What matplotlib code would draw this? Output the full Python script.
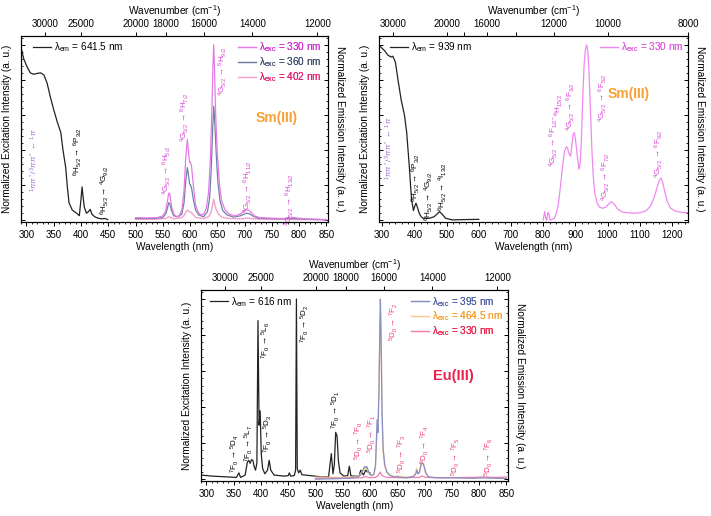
import matplotlib.pyplot as plt
from matplotlib.lines import Line2D
from matplotlib.ticker import MultipleLocator, NullLocator

plt.rcParams.update({
    "font.family": ["Liberation Sans", "DejaVu Sans"],
    "font.size": 7,
    "mathtext.fontset": "custom",
    "mathtext.rm": "Liberation Sans",
    "mathtext.it": "Liberation Sans:italic",
    "mathtext.bf": "Liberation Sans:bold",
    "axes.linewidth": 0.8,
})

# ---- Sm(III), visible: excitation (em 641.5 nm) and emission spectra ----
sm1_exc_wl = [289, 295, 301, 307, 313, 320, 326, 332, 338, 344, 350, 357, 363, 367, 372,
              375, 378, 384, 392, 397, 400, 402, 404, 406, 410, 414, 417, 420, 425, 431,
              438, 444, 449]
sm1_exc = [1.0, 0.92, 0.875, 0.84, 0.832, 0.837, 0.84, 0.828, 0.78, 0.70, 0.63, 0.555, 0.50,
           0.40, 0.30, 0.19, 0.10, 0.058, 0.04, 0.026, 0.12, 0.19, 0.13, 0.075, 0.04, 0.05,
           0.062, 0.035, 0.02, 0.012, 0.008, 0.01, 0.004]

sm1_em330_wl = [500, 520, 540, 550, 555, 558, 561, 563, 566, 570, 575, 580, 585, 589, 592,
                595, 597, 599, 601, 603, 606, 610, 615, 620, 625, 630, 634, 637, 640, 642,
                643.5, 645, 647, 650, 654, 658, 664, 672, 682, 692, 698, 703, 707, 712, 718,
                728, 745, 770, 785, 790, 795, 810, 830, 850]
sm1_em330 = [0.015, 0.013, 0.015, 0.025, 0.05, 0.10, 0.155, 0.15, 0.08, 0.035, 0.02, 0.025,
             0.06, 0.17, 0.35, 0.46, 0.40, 0.33, 0.33, 0.30, 0.20, 0.09, 0.045, 0.03, 0.035,
             0.07, 0.16, 0.33, 0.62, 0.88, 1.0, 0.85, 0.6, 0.38, 0.2, 0.11, 0.06, 0.035, 0.025,
             0.035, 0.05, 0.06, 0.058, 0.045, 0.025, 0.015, 0.012, 0.01, 0.014, 0.016, 0.013,
             0.008, 0.006, 0.004]

sm1_em360_wl = [500, 530, 550, 556, 559, 561, 563, 566, 570, 578, 585, 589, 592, 595, 597,
                599, 601, 603, 606, 610, 616, 625, 632, 636, 639, 641.5, 643.5, 645.5, 648,
                651, 655, 660, 668, 680, 692, 700, 705, 710, 716, 725, 760, 790, 820, 850]
sm1_em360 = [0.01, 0.01, 0.015, 0.04, 0.075, 0.10, 0.095, 0.055, 0.025, 0.02, 0.035, 0.10,
             0.22, 0.30, 0.26, 0.21, 0.20, 0.18, 0.12, 0.06, 0.03, 0.02, 0.05, 0.13, 0.30,
             0.52, 0.65, 0.55, 0.38, 0.22, 0.11, 0.055, 0.03, 0.018, 0.025, 0.036, 0.04,
             0.035, 0.022, 0.012, 0.008, 0.01, 0.005, 0.003]

sm1_em402_wl = [500, 540, 555, 559, 562, 565, 570, 585, 590, 593, 595.5, 598, 602, 606, 612,
                625, 634, 638, 641, 643.5, 645.5, 648, 652, 658, 670, 695, 705, 715, 740, 850]
sm1_em402 = [0.005, 0.006, 0.01, 0.016, 0.02, 0.015, 0.008, 0.015, 0.03, 0.05, 0.058, 0.05,
             0.045, 0.03, 0.015, 0.01, 0.02, 0.04, 0.08, 0.12, 0.09, 0.06, 0.035, 0.018, 0.01,
             0.008, 0.013, 0.008, 0.005, 0.003]

# ---- Sm(III), NIR: excitation (em 939 nm) and emission (exc 330 nm) ----
sm2_exc_wl = [290, 297, 308, 318, 328, 333, 341, 349, 359, 369, 376, 384, 391, 397, 401, 405,
              410, 415, 421, 428, 446, 461, 470, 478, 486, 497, 518, 560, 600]
sm2_exc = [1.0, 0.985, 0.965, 0.94, 0.93, 0.935, 0.90, 0.80, 0.685, 0.60, 0.50, 0.31, 0.12,
           0.055, 0.08, 0.097, 0.07, 0.04, 0.02, 0.011, 0.011, 0.02, 0.035, 0.049, 0.035,
           0.011, 0.002, 0.004, 0.005]

sm2_em_wl = [800, 805, 808, 811, 815, 818, 822, 826, 836, 846, 851, 856, 861, 866, 872, 876,
             880, 885, 889, 893, 897, 901, 906, 911, 915, 919, 923, 927, 931, 935, 939, 943,
             947, 951, 955, 960, 967, 975, 985, 995, 1005, 1012, 1017, 1023, 1031, 1045, 1065,
             1085, 1105, 1120, 1133, 1145, 1153, 1160, 1166, 1171, 1177, 1185, 1195, 1210,
             1230, 1250]
sm2_em = [0.004, 0.05, 0.01, 0.0, 0.045, 0.035, 0.0, 0.004, 0.013, 0.077, 0.15, 0.23, 0.32,
          0.39, 0.42, 0.41, 0.38, 0.365, 0.42, 0.49, 0.50, 0.45, 0.37, 0.29, 0.33, 0.46, 0.70,
          0.88, 0.97, 1.0, 0.96, 0.82, 0.62, 0.42, 0.27, 0.16, 0.10, 0.075, 0.068, 0.075,
          0.095, 0.105, 0.10, 0.085, 0.065, 0.047, 0.042, 0.04, 0.045, 0.055, 0.08, 0.13,
          0.18, 0.225, 0.24, 0.22, 0.17, 0.11, 0.07, 0.052, 0.045, 0.043]

# ---- Eu(III): excitation (em 616 nm) and emission spectra ----
eu_exc_wl = [290, 311, 336, 355, 359.5, 362.5, 371, 375, 377.5, 380, 382.5, 385, 387.5, 390,
             392.5, 394.5, 396.5, 398.5, 400.5, 403, 407, 412, 415, 418, 424, 443, 450, 452,
             454.5, 461, 463.5, 465, 466.5, 469, 472, 475, 490, 511, 524, 526.5, 529, 532,
             534.5, 537, 539.5, 542, 545, 552, 559, 562, 565, 575, 580, 583, 588, 592, 596, 600]
eu_exc = [0.023, 0.017, 0.013, 0.01, 0.035, 0.01, 0.023, 0.095, 0.105, 0.088, 0.108, 0.105,
          0.07, 0.05, 0.09, 0.88, 0.30, 0.38, 0.14, 0.06, 0.03, 0.05, 0.105, 0.05, 0.023,
          0.017, 0.02, 0.035, 0.017, 0.02, 0.05, 1.0, 0.06, 0.035, 0.05, 0.025, 0.02, 0.013,
          0.013, 0.08, 0.142, 0.03, 0.08, 0.26, 0.24, 0.10, 0.035, 0.017, 0.02, 0.072, 0.017,
          0.017, 0.02, 0.05, 0.023, 0.05, 0.04, 0.035]

eu_em395_wl = [500, 540, 565, 578, 583, 587, 590, 592, 594, 596, 599, 603, 607, 610, 613,
               614.5, 616.5, 618, 619, 620.5, 622, 624, 627, 631, 637, 645, 650, 655, 668, 680,
               684, 686, 688, 690, 692, 694, 696, 698, 700, 703, 708, 720, 750, 790, 810, 830, 850]
eu_em395 = [0.0, 0.003, 0.006, 0.012, 0.025, 0.05, 0.07, 0.065, 0.07, 0.055, 0.03, 0.02, 0.03,
            0.08, 0.33, 0.26, 0.50, 0.85, 1.0, 0.75, 0.38, 0.17, 0.08, 0.04, 0.02, 0.012,
            0.015, 0.01, 0.008, 0.015, 0.03, 0.05, 0.03, 0.035, 0.06, 0.088, 0.09, 0.085, 0.06,
            0.03, 0.012, 0.008, 0.008, 0.005, 0.008, 0.005, 0.004]

eu_em464_wl = [500, 540, 570, 580, 585, 589, 592, 594, 596, 599, 603, 607, 610, 613, 615, 617,
               619, 620.5, 622, 624, 627, 631, 637, 645, 652, 665, 678, 683, 685.5, 688, 691,
               694, 696.5, 699, 702, 706, 715, 740, 780, 810, 850]
eu_em464 = [0.012, 0.01, 0.012, 0.02, 0.04, 0.06, 0.055, 0.06, 0.045, 0.025, 0.02, 0.025, 0.06,
            0.28, 0.35, 0.65, 0.92, 0.7, 0.35, 0.15, 0.07, 0.035, 0.02, 0.015, 0.017, 0.012,
            0.015, 0.03, 0.06, 0.03, 0.04, 0.08, 0.085, 0.07, 0.035, 0.015, 0.01, 0.009, 0.006,
            0.008, 0.005]

eu_em330_wl = [500, 560, 585, 592, 598, 610, 615, 618.5, 622, 630, 660, 690, 696, 702, 730,
               780, 810, 830, 850]
eu_em330 = [0.005, 0.006, 0.008, 0.015, 0.008, 0.01, 0.02, 0.04, 0.02, 0.01, 0.008, 0.01,
            0.018, 0.01, 0.008, 0.01, 0.012, 0.01, 0.012]

# top axis wavenumber ticks (cm-1)
wn_vis = [30000, 25000, 20000, 18000, 16000, 14000, 12000]
wn_vis_labels = ["30000", "25000", "20000", "18000", "16000", "14000", "12000"]
wn_nir = [30000, 20000, 18000, 16000, 14000, 12000, 10000, 8000]
wn_nir_labels = ["30000", "20000", "", "16000", "", "12000", "10000", "8000"]

# colours
LIG = "#a070d0"
MAG = "#d844d8"
EUR = "#ee3a75"

lig_txt = r"$^1\pi\pi^*/^3\pi\pi^*$ ← $^1\pi$"

sm1_labels = [
    (lig_txt, 315, 0.34, LIG),
    (r"$^6$H$_{5/2}$ → $^6$P$_{3/2}$", 394, 0.39, "k"),
    (r"$^6$H$_{5/2}$ → $^4$G$_{9/2}$", 443, 0.17, "k"),
    (r"$^4$G$_{5/2}$ → $^6$H$_{5/2}$", 557, 0.287, MAG),
    (r"$^4$G$_{5/2}$ → $^6$H$_{7/2}$", 590, 0.59, MAG),
    (r"$^4$G$_{5/2}$ → $^6$H$_{9/2}$", 660, 0.85, MAG),
    (r"$^4$G$_{5/2}$ → $^6$H$_{11/2}$", 706, 0.19, MAG),
    (r"$^4$G$_{5/2}$ → $^6$H$_{13/2}$", 783, 0.115, MAG),
]
sm2_labels = [
    (lig_txt, 323, 0.41, LIG),
    (r"$^6$H$_{5/2}$ → $^6$P$_{3/2}$", 405, 0.24, "k"),
    (r"$^6$H$_{5/2}$ → $^4$G$_{9/2}$", 446, 0.138, "k"),
    (r"$^6$H$_{5/2}$ → $^4$I$_{13/2}$", 487, 0.19, "k"),
    (r"$^4$G$_{5/2}$ → $^6$F$_{1/2}$-", 834, 0.45, MAG),
    (r"$^6$H$_{15/2}$", 849, 0.66, MAG),
    (r"$^4$G$_{5/2}$ → $^6$F$_{3/2}$", 887, 0.647, MAG),
    (r"$^4$G$_{5/2}$ → $^6$F$_{5/2}$", 984, 0.70, MAG),
    (r"$^4$G$_{5/2}$ → $^6$F$_{7/2}$", 995, 0.25, MAG),
    (r"$^4$G$_{5/2}$ → $^6$F$_{9/2}$", 1159, 0.38, MAG),
]
eu_labels = [
    (r"$^7$F$_0$ → $^5$D$_4$", 352, 0.144, "k"),
    (r"$^7$F$_0$ → $^5$L$_7$", 377, 0.199, "k"),
    (r"$^7$F$_0$ → $^5$L$_6$", 408, 0.77, "k"),
    (r"$^7$F$_0$ → $^5$D$_3$", 411.5, 0.255, "k"),
    (r"$^7$F$_0$ → $^5$D$_2$", 480, 0.865, "k"),
    (r"$^7$F$_0$ → $^5$D$_1$", 536.5, 0.384, "k"),
    (r"$^5$D$_0$ → $^7$F$_0$", 580, 0.216, EUR),
    (r"$^5$D$_0$ → $^7$F$_1$", 604, 0.255, EUR),
    (r"$^5$D$_0$ → $^7$F$_2$", 643, 0.876, EUR),
    (r"$^5$D$_0$ → $^7$F$_3$", 658, 0.144, EUR),
    (r"$^5$D$_0$ → $^7$F$_4$", 700, 0.19, EUR),
    (r"$^5$D$_0$ → $^7$F$_5$", 758, 0.125, EUR),
    (r"$^5$D$_0$ → $^7$F$_6$", 818, 0.128, EUR),
]


def setup(ax, xlim, major, minor, wn, wn_labels):
    ax.set_xlim(xlim)
    ax.set_ylim(-0.01, 1.05)
    ax.xaxis.set_major_locator(MultipleLocator(major))
    ax.xaxis.set_minor_locator(MultipleLocator(minor))
    ax.yaxis.set_major_locator(MultipleLocator(0.2))
    ax.yaxis.set_minor_locator(MultipleLocator(0.04))
    ax.tick_params(axis="x", which="major", direction="out", length=3, width=0.7, pad=2.5,
                   labelsize=7)
    ax.tick_params(axis="x", which="minor", direction="out", length=1.6, width=0.6)
    ax.tick_params(axis="y", which="major", direction="in", length=3, width=0.7,
                   left=True, right=True, labelleft=False)
    ax.tick_params(axis="y", which="minor", direction="in", length=1.6, width=0.6,
                   left=True, right=True)
    ax.set_xlabel("Wavelength (nm)", fontsize=7.3, labelpad=2)
    ax.set_ylabel("Normalized Excitation Intensity (a. u.)", fontsize=7.3)
    ax.yaxis.set_label_coords(-0.03, 0.5)
    ax.text(1.04, 0.5, "Normalized Emission Intensity (a. u.)", rotation=270,
            transform=ax.transAxes, ha="center", va="center", fontsize=7.3)
    top = ax.twiny()
    top.set_xlim(xlim)
    top.set_xticks([1e7 / w for w in wn])
    top.set_xticklabels(wn_labels)
    top.xaxis.set_minor_locator(NullLocator())
    top.tick_params(axis="x", direction="out", length=3, width=0.7, pad=2, labelsize=7)
    top.set_xlabel("Wavenumber (cm$^{-1}$)", fontsize=7.3, labelpad=3)


def add_legend(ax, labels, colors, textcolors, loc, anchor):
    handles = [Line2D([], [], color=c, lw=0.9) for c in colors]
    leg = ax.legend(handles, labels, loc=loc, bbox_to_anchor=anchor, frameon=False,
                    fontsize=7.2, handlelength=1.8, handletextpad=0.3, borderpad=0,
                    borderaxespad=0, labelspacing=0.1, labelcolor=textcolors)
    ax.add_artist(leg)


def put_labels(ax, labels, size=5.9):
    for txt, x, y, c in labels:
        ax.text(x, y, txt, rotation=90, color=c, fontsize=size, ha="center", va="center")


fig = plt.figure(figsize=(7.11, 5.16), dpi=100)
ax1 = fig.add_axes([21 / 711, 1 - 222 / 516, 307 / 711, 186 / 516])
ax2 = fig.add_axes([379 / 711, 1 - 222 / 516, 309 / 711, 186 / 516])
ax3 = fig.add_axes([201 / 711, 1 - 481 / 516, 307 / 711, 191 / 516])

# panel 1: Sm(III) visible
ax1.plot(sm1_exc_wl, sm1_exc, color="#222222", lw=0.9)
ax1.plot(sm1_em402_wl, sm1_em402, color="#f3a0d2", lw=1.0)
ax1.plot(sm1_em360_wl, sm1_em360, color="#7080a4", lw=0.9)
ax1.plot(sm1_em330_wl, sm1_em330, color="#e47ae6", lw=0.9)
setup(ax1, (290, 853), 50, 10, wn_vis, wn_vis_labels)
add_legend(ax1, ["λ$_\\mathrm{em}$ = 641.5 nm"], ["#222222"], ["k"],
           "upper left", (0.038, 0.975))
add_legend(ax1, ["λ$_\\mathrm{exc}$ = 330 nm", "λ$_\\mathrm{exc}$ = 360 nm",
                 "λ$_\\mathrm{exc}$ = 402 nm"],
           ["#e47ae6", "#7080a4", "#f3a0d2"], ["#d030d0", "#405070", "#e02070"],
           "upper right", (0.978, 0.975))
put_labels(ax1, sm1_labels)
ax1.text(759, 0.583, "Sm(III)", color="#f5a035", fontsize=10, fontweight="bold",
         ha="center", va="center")

# panel 2: Sm(III) NIR
ax2.plot(sm2_exc_wl, sm2_exc, color="#222222", lw=0.9)
ax2.plot(sm2_em_wl, sm2_em, color="#ee8aee", lw=0.9)
setup(ax2, (290, 1250), 100, 20, wn_nir, wn_nir_labels)
add_legend(ax2, ["λ$_\\mathrm{em}$ = 939 nm"], ["#222222"], ["k"],
           "upper left", (0.036, 0.975))
add_legend(ax2, ["λ$_\\mathrm{exc}$ = 330 nm"], ["#ee8aee"], ["#e060e0"],
           "upper right", (0.984, 0.975))
put_labels(ax2, sm2_labels)
ax2.text(1067, 0.72, "Sm(III)", color="#f5a035", fontsize=10, fontweight="bold",
         ha="center", va="center")

# panel 3: Eu(III)
ax3.plot(eu_exc_wl, eu_exc, color="#222222", lw=0.9)
ax3.plot(eu_em464_wl, eu_em464, color="#f8c88e", lw=0.9)
ax3.plot(eu_em330_wl, eu_em330, color="#f27fb0", lw=0.9)
ax3.plot(eu_em395_wl, eu_em395, color="#8890c2", lw=0.9)
setup(ax3, (290, 853), 50, 10, wn_vis, wn_vis_labels)
add_legend(ax3, ["λ$_\\mathrm{em}$ = 616 nm"], ["#222222"], ["k"],
           "upper left", (0.03, 0.975))
add_legend(ax3, ["λ$_\\mathrm{exc}$ = 395 nm", "λ$_\\mathrm{exc}$ = 464.5 nm",
                 "λ$_\\mathrm{exc}$ = 330 nm"],
           ["#8890c2", "#f8c88e", "#f27fb0"], ["#5060a0", "#f5a030", "#e8204a"],
           "upper right", (0.984, 0.975))
put_labels(ax3, eu_labels)
ax3.text(752, 0.57, "Eu(III)", color="#e8204a", fontsize=10.5, fontweight="bold",
         ha="center", va="center")

fig.savefig("out.png", dpi=100)
